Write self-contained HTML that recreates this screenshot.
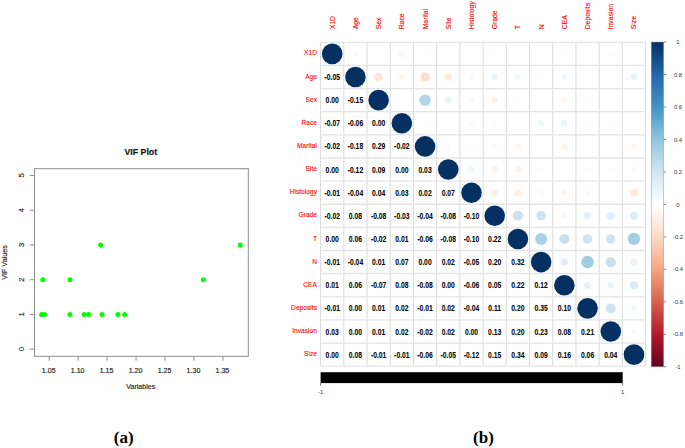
<!DOCTYPE html>
<html><head><meta charset="utf-8"><style>
html,body{margin:0;padding:0;background:#fff;}
body{width:685px;height:448px;overflow:hidden;}
svg{display:block;font-family:"Liberation Sans",sans-serif;}
</style></head><body>
<svg width="685" height="448" viewBox="0 0 685 448">
<rect width="685" height="448" fill="#fff"/>
<rect x="34.5" y="168.7" width="213.8" height="187.6" fill="none" stroke="#8c8c8c" stroke-width="1"/>
<text transform="translate(140.80 155.30) scale(1.0 1.05)" font-size="8.75" font-weight="bold" text-anchor="middle" fill="#111" stroke="#111" stroke-width="0.15">VIF Plot</text>
<line x1="29.8" y1="349.20" x2="34.5" y2="349.20" stroke="#8c8c8c" stroke-width="1"/>
<text transform="translate(24.40 349.20) rotate(-90) scale(1.0 1.0)" font-size="7.6" text-anchor="middle" fill="#222" stroke="#222" stroke-width="0.15">0</text>
<line x1="29.8" y1="314.46" x2="34.5" y2="314.46" stroke="#8c8c8c" stroke-width="1"/>
<text transform="translate(24.40 314.46) rotate(-90) scale(1.0 1.0)" font-size="7.6" text-anchor="middle" fill="#222" stroke="#222" stroke-width="0.15">1</text>
<line x1="29.8" y1="279.72" x2="34.5" y2="279.72" stroke="#8c8c8c" stroke-width="1"/>
<text transform="translate(24.40 279.72) rotate(-90) scale(1.0 1.0)" font-size="7.6" text-anchor="middle" fill="#222" stroke="#222" stroke-width="0.15">2</text>
<line x1="29.8" y1="244.98" x2="34.5" y2="244.98" stroke="#8c8c8c" stroke-width="1"/>
<text transform="translate(24.40 244.98) rotate(-90) scale(1.0 1.0)" font-size="7.6" text-anchor="middle" fill="#222" stroke="#222" stroke-width="0.15">3</text>
<line x1="29.8" y1="210.24" x2="34.5" y2="210.24" stroke="#8c8c8c" stroke-width="1"/>
<text transform="translate(24.40 210.24) rotate(-90) scale(1.0 1.0)" font-size="7.6" text-anchor="middle" fill="#222" stroke="#222" stroke-width="0.15">4</text>
<line x1="29.8" y1="175.50" x2="34.5" y2="175.50" stroke="#8c8c8c" stroke-width="1"/>
<text transform="translate(24.40 175.50) rotate(-90) scale(1.0 1.0)" font-size="7.6" text-anchor="middle" fill="#222" stroke="#222" stroke-width="0.15">5</text>
<line x1="49.20" y1="356.3" x2="49.20" y2="360.6" stroke="#8c8c8c" stroke-width="1"/>
<text transform="translate(48.70 372.50) scale(0.98 1.1)" font-size="7.2" text-anchor="middle" fill="#222" stroke="#222" stroke-width="0.15">1.05</text>
<line x1="78.15" y1="356.3" x2="78.15" y2="360.6" stroke="#8c8c8c" stroke-width="1"/>
<text transform="translate(77.65 372.50) scale(0.98 1.1)" font-size="7.2" text-anchor="middle" fill="#222" stroke="#222" stroke-width="0.15">1.10</text>
<line x1="107.10" y1="356.3" x2="107.10" y2="360.6" stroke="#8c8c8c" stroke-width="1"/>
<text transform="translate(106.60 372.50) scale(0.98 1.1)" font-size="7.2" text-anchor="middle" fill="#222" stroke="#222" stroke-width="0.15">1.15</text>
<line x1="136.05" y1="356.3" x2="136.05" y2="360.6" stroke="#8c8c8c" stroke-width="1"/>
<text transform="translate(135.55 372.50) scale(0.98 1.1)" font-size="7.2" text-anchor="middle" fill="#222" stroke="#222" stroke-width="0.15">1.20</text>
<line x1="165.00" y1="356.3" x2="165.00" y2="360.6" stroke="#8c8c8c" stroke-width="1"/>
<text transform="translate(164.50 372.50) scale(0.98 1.1)" font-size="7.2" text-anchor="middle" fill="#222" stroke="#222" stroke-width="0.15">1.25</text>
<line x1="193.95" y1="356.3" x2="193.95" y2="360.6" stroke="#8c8c8c" stroke-width="1"/>
<text transform="translate(193.45 372.50) scale(0.98 1.1)" font-size="7.2" text-anchor="middle" fill="#222" stroke="#222" stroke-width="0.15">1.30</text>
<line x1="222.90" y1="356.3" x2="222.90" y2="360.6" stroke="#8c8c8c" stroke-width="1"/>
<text transform="translate(222.40 372.50) scale(0.98 1.1)" font-size="7.2" text-anchor="middle" fill="#222" stroke="#222" stroke-width="0.15">1.35</text>
<text transform="translate(140.80 388.80) scale(0.98 1.1)" font-size="7.2" text-anchor="middle" fill="#222" stroke="#222" stroke-width="0.15">Variables</text>
<text transform="translate(7.20 262.50) rotate(-90) scale(1.0 1.0)" font-size="7.2" text-anchor="middle" fill="#222" stroke="#222" stroke-width="0.15">VIF Values</text>
<circle cx="41.6" cy="314.46" r="2.5" fill="#00ff00"/>
<circle cx="44.5" cy="314.46" r="2.5" fill="#00ff00"/>
<circle cx="69.9" cy="314.46" r="2.5" fill="#00ff00"/>
<circle cx="84.2" cy="314.46" r="2.5" fill="#00ff00"/>
<circle cx="88.6" cy="314.46" r="2.5" fill="#00ff00"/>
<circle cx="102.0" cy="314.46" r="2.5" fill="#00ff00"/>
<circle cx="117.9" cy="314.46" r="2.5" fill="#00ff00"/>
<circle cx="124.7" cy="314.46" r="2.5" fill="#00ff00"/>
<circle cx="42.8" cy="279.72" r="2.5" fill="#00ff00"/>
<circle cx="70.0" cy="279.72" r="2.5" fill="#00ff00"/>
<circle cx="203.3" cy="279.72" r="2.5" fill="#00ff00"/>
<circle cx="100.7" cy="244.98" r="2.5" fill="#00ff00"/>
<circle cx="240.2" cy="244.98" r="2.5" fill="#00ff00"/>
<line x1="320.60" y1="42.3" x2="320.60" y2="366.2" stroke="#dadada" stroke-width="1"/>
<line x1="343.81" y1="42.3" x2="343.81" y2="366.2" stroke="#dadada" stroke-width="1"/>
<line x1="367.03" y1="42.3" x2="367.03" y2="366.2" stroke="#dadada" stroke-width="1"/>
<line x1="390.24" y1="42.3" x2="390.24" y2="366.2" stroke="#dadada" stroke-width="1"/>
<line x1="413.46" y1="42.3" x2="413.46" y2="366.2" stroke="#dadada" stroke-width="1"/>
<line x1="436.67" y1="42.3" x2="436.67" y2="366.2" stroke="#dadada" stroke-width="1"/>
<line x1="459.89" y1="42.3" x2="459.89" y2="366.2" stroke="#dadada" stroke-width="1"/>
<line x1="483.10" y1="42.3" x2="483.10" y2="366.2" stroke="#dadada" stroke-width="1"/>
<line x1="506.31" y1="42.3" x2="506.31" y2="366.2" stroke="#dadada" stroke-width="1"/>
<line x1="529.53" y1="42.3" x2="529.53" y2="366.2" stroke="#dadada" stroke-width="1"/>
<line x1="552.74" y1="42.3" x2="552.74" y2="366.2" stroke="#dadada" stroke-width="1"/>
<line x1="575.96" y1="42.3" x2="575.96" y2="366.2" stroke="#dadada" stroke-width="1"/>
<line x1="599.17" y1="42.3" x2="599.17" y2="366.2" stroke="#dadada" stroke-width="1"/>
<line x1="622.39" y1="42.3" x2="622.39" y2="366.2" stroke="#dadada" stroke-width="1"/>
<line x1="645.60" y1="42.3" x2="645.60" y2="366.2" stroke="#dadada" stroke-width="1"/>
<line x1="320.6" y1="42.30" x2="645.6" y2="42.30" stroke="#e4e4e4" stroke-width="1.3"/>
<line x1="320.6" y1="65.44" x2="645.6" y2="65.44" stroke="#e4e4e4" stroke-width="1.3"/>
<line x1="320.6" y1="88.57" x2="645.6" y2="88.57" stroke="#e4e4e4" stroke-width="1.3"/>
<line x1="320.6" y1="111.71" x2="645.6" y2="111.71" stroke="#e4e4e4" stroke-width="1.3"/>
<line x1="320.6" y1="134.84" x2="645.6" y2="134.84" stroke="#e4e4e4" stroke-width="1.3"/>
<line x1="320.6" y1="157.98" x2="645.6" y2="157.98" stroke="#e4e4e4" stroke-width="1.3"/>
<line x1="320.6" y1="181.11" x2="645.6" y2="181.11" stroke="#e4e4e4" stroke-width="1.3"/>
<line x1="320.6" y1="204.25" x2="645.6" y2="204.25" stroke="#e4e4e4" stroke-width="1.3"/>
<line x1="320.6" y1="227.39" x2="645.6" y2="227.39" stroke="#e4e4e4" stroke-width="1.3"/>
<line x1="320.6" y1="250.52" x2="645.6" y2="250.52" stroke="#e4e4e4" stroke-width="1.3"/>
<line x1="320.6" y1="273.66" x2="645.6" y2="273.66" stroke="#e4e4e4" stroke-width="1.3"/>
<line x1="320.6" y1="296.79" x2="645.6" y2="296.79" stroke="#e4e4e4" stroke-width="1.3"/>
<line x1="320.6" y1="319.93" x2="645.6" y2="319.93" stroke="#e4e4e4" stroke-width="1.3"/>
<line x1="320.6" y1="343.06" x2="645.6" y2="343.06" stroke="#e4e4e4" stroke-width="1.3"/>
<line x1="320.6" y1="366.20" x2="645.6" y2="366.20" stroke="#e4e4e4" stroke-width="1.3"/>
<circle cx="332.21" cy="53.87" r="10.30" fill="#053061"/>
<circle cx="355.42" cy="53.87" r="2.57" fill="#fff7f2"/>
<circle cx="401.85" cy="53.87" r="2.98" fill="#fef3ed"/>
<circle cx="425.06" cy="53.87" r="1.76" fill="#fffcfb"/>
<circle cx="471.49" cy="53.87" r="1.34" fill="#fffefe"/>
<circle cx="494.71" cy="53.87" r="1.76" fill="#fffcfb"/>
<circle cx="541.14" cy="53.87" r="1.34" fill="#fffefe"/>
<circle cx="564.35" cy="53.87" r="1.34" fill="#fcfdfe"/>
<circle cx="587.56" cy="53.87" r="1.34" fill="#fffefe"/>
<circle cx="610.78" cy="53.87" r="2.07" fill="#f7fafc"/>
<text transform="translate(332.21 80.02) scale(0.97 1.17)" font-size="7.0" font-weight="bold" text-anchor="middle" fill="#000" stroke="#000" stroke-width="0.05">-0.05</text>
<circle cx="355.42" cy="77.00" r="10.30" fill="#053061"/>
<circle cx="378.64" cy="77.00" r="4.20" fill="#fee5d6"/>
<circle cx="401.85" cy="77.00" r="2.79" fill="#fef5f0"/>
<circle cx="425.06" cy="77.00" r="4.57" fill="#fddfce"/>
<circle cx="448.28" cy="77.00" r="3.80" fill="#feeadf"/>
<circle cx="471.49" cy="77.00" r="2.34" fill="#fff9f5"/>
<circle cx="494.71" cy="77.00" r="3.16" fill="#ebf4f9"/>
<circle cx="517.92" cy="77.00" r="2.79" fill="#f0f7fa"/>
<circle cx="541.14" cy="77.00" r="2.34" fill="#fff9f5"/>
<circle cx="564.35" cy="77.00" r="2.79" fill="#f0f7fa"/>
<circle cx="633.99" cy="77.00" r="3.16" fill="#ebf4f9"/>
<text transform="translate(332.21 103.16) scale(0.97 1.17)" font-size="7.0" font-weight="bold" text-anchor="middle" fill="#000" stroke="#000" stroke-width="0.05">0.00</text>
<text transform="translate(355.42 103.16) scale(0.97 1.17)" font-size="7.0" font-weight="bold" text-anchor="middle" fill="#000" stroke="#000" stroke-width="0.05">-0.15</text>
<circle cx="378.64" cy="100.14" r="10.30" fill="#053061"/>
<circle cx="425.06" cy="100.14" r="5.71" fill="#b3d6e7"/>
<circle cx="448.28" cy="100.14" r="3.33" fill="#e9f3f8"/>
<circle cx="471.49" cy="100.14" r="2.34" fill="#f5f9fc"/>
<circle cx="494.71" cy="100.14" r="3.16" fill="#fef1ea"/>
<circle cx="517.92" cy="100.14" r="1.76" fill="#fffcfb"/>
<circle cx="541.14" cy="100.14" r="1.34" fill="#fcfdfe"/>
<circle cx="564.35" cy="100.14" r="2.98" fill="#fef3ed"/>
<circle cx="587.56" cy="100.14" r="1.34" fill="#fcfdfe"/>
<circle cx="610.78" cy="100.14" r="1.34" fill="#fcfdfe"/>
<circle cx="633.99" cy="100.14" r="1.34" fill="#fffefe"/>
<text transform="translate(332.21 126.29) scale(0.97 1.17)" font-size="7.0" font-weight="bold" text-anchor="middle" fill="#000" stroke="#000" stroke-width="0.05">-0.07</text>
<text transform="translate(355.42 126.29) scale(0.97 1.17)" font-size="7.0" font-weight="bold" text-anchor="middle" fill="#000" stroke="#000" stroke-width="0.05">-0.06</text>
<text transform="translate(378.64 126.29) scale(0.97 1.17)" font-size="7.0" font-weight="bold" text-anchor="middle" fill="#000" stroke="#000" stroke-width="0.05">0.00</text>
<circle cx="401.85" cy="123.27" r="10.30" fill="#053061"/>
<circle cx="425.06" cy="123.27" r="1.76" fill="#fffcfb"/>
<circle cx="471.49" cy="123.27" r="2.07" fill="#f7fafc"/>
<circle cx="494.71" cy="123.27" r="2.07" fill="#fffaf8"/>
<circle cx="517.92" cy="123.27" r="1.34" fill="#fcfdfe"/>
<circle cx="541.14" cy="123.27" r="2.98" fill="#eef5f9"/>
<circle cx="564.35" cy="123.27" r="3.16" fill="#ebf4f9"/>
<circle cx="587.56" cy="123.27" r="1.76" fill="#f9fcfd"/>
<circle cx="610.78" cy="123.27" r="1.76" fill="#f9fcfd"/>
<circle cx="633.99" cy="123.27" r="1.34" fill="#fffefe"/>
<text transform="translate(332.21 149.43) scale(0.97 1.17)" font-size="7.0" font-weight="bold" text-anchor="middle" fill="#000" stroke="#000" stroke-width="0.05">-0.02</text>
<text transform="translate(355.42 149.43) scale(0.97 1.17)" font-size="7.0" font-weight="bold" text-anchor="middle" fill="#000" stroke="#000" stroke-width="0.05">-0.18</text>
<text transform="translate(378.64 149.43) scale(0.97 1.17)" font-size="7.0" font-weight="bold" text-anchor="middle" fill="#000" stroke="#000" stroke-width="0.05">0.29</text>
<text transform="translate(401.85 149.43) scale(0.97 1.17)" font-size="7.0" font-weight="bold" text-anchor="middle" fill="#000" stroke="#000" stroke-width="0.05">-0.02</text>
<circle cx="425.06" cy="146.41" r="10.30" fill="#053061"/>
<circle cx="448.28" cy="146.41" r="2.07" fill="#f7fafc"/>
<circle cx="471.49" cy="146.41" r="1.76" fill="#f9fcfd"/>
<circle cx="494.71" cy="146.41" r="2.34" fill="#fff9f5"/>
<circle cx="517.92" cy="146.41" r="2.79" fill="#fef5f0"/>
<circle cx="564.35" cy="146.41" r="3.16" fill="#fef1ea"/>
<circle cx="587.56" cy="146.41" r="1.34" fill="#fffefe"/>
<circle cx="610.78" cy="146.41" r="1.76" fill="#fffcfb"/>
<circle cx="633.99" cy="146.41" r="2.79" fill="#fef5f0"/>
<text transform="translate(332.21 172.57) scale(0.97 1.17)" font-size="7.0" font-weight="bold" text-anchor="middle" fill="#000" stroke="#000" stroke-width="0.05">0.00</text>
<text transform="translate(355.42 172.57) scale(0.97 1.17)" font-size="7.0" font-weight="bold" text-anchor="middle" fill="#000" stroke="#000" stroke-width="0.05">-0.12</text>
<text transform="translate(378.64 172.57) scale(0.97 1.17)" font-size="7.0" font-weight="bold" text-anchor="middle" fill="#000" stroke="#000" stroke-width="0.05">0.09</text>
<text transform="translate(401.85 172.57) scale(0.97 1.17)" font-size="7.0" font-weight="bold" text-anchor="middle" fill="#000" stroke="#000" stroke-width="0.05">0.00</text>
<text transform="translate(425.06 172.57) scale(0.97 1.17)" font-size="7.0" font-weight="bold" text-anchor="middle" fill="#000" stroke="#000" stroke-width="0.05">0.03</text>
<circle cx="448.28" cy="169.55" r="10.30" fill="#053061"/>
<circle cx="471.49" cy="169.55" r="2.98" fill="#eef5f9"/>
<circle cx="494.71" cy="169.55" r="3.16" fill="#fef1ea"/>
<circle cx="517.92" cy="169.55" r="3.16" fill="#fef1ea"/>
<circle cx="541.14" cy="169.55" r="1.76" fill="#f9fcfd"/>
<circle cx="587.56" cy="169.55" r="1.76" fill="#f9fcfd"/>
<circle cx="610.78" cy="169.55" r="1.76" fill="#f9fcfd"/>
<circle cx="633.99" cy="169.55" r="2.57" fill="#fff7f2"/>
<text transform="translate(332.21 195.70) scale(0.97 1.17)" font-size="7.0" font-weight="bold" text-anchor="middle" fill="#000" stroke="#000" stroke-width="0.05">-0.01</text>
<text transform="translate(355.42 195.70) scale(0.97 1.17)" font-size="7.0" font-weight="bold" text-anchor="middle" fill="#000" stroke="#000" stroke-width="0.05">-0.04</text>
<text transform="translate(378.64 195.70) scale(0.97 1.17)" font-size="7.0" font-weight="bold" text-anchor="middle" fill="#000" stroke="#000" stroke-width="0.05">0.04</text>
<text transform="translate(401.85 195.70) scale(0.97 1.17)" font-size="7.0" font-weight="bold" text-anchor="middle" fill="#000" stroke="#000" stroke-width="0.05">0.03</text>
<text transform="translate(425.06 195.70) scale(0.97 1.17)" font-size="7.0" font-weight="bold" text-anchor="middle" fill="#000" stroke="#000" stroke-width="0.05">0.02</text>
<text transform="translate(448.28 195.70) scale(0.97 1.17)" font-size="7.0" font-weight="bold" text-anchor="middle" fill="#000" stroke="#000" stroke-width="0.05">0.07</text>
<circle cx="471.49" cy="192.68" r="10.30" fill="#053061"/>
<circle cx="494.71" cy="192.68" r="3.50" fill="#feeee4"/>
<circle cx="517.92" cy="192.68" r="3.50" fill="#feeee4"/>
<circle cx="541.14" cy="192.68" r="2.57" fill="#fff7f2"/>
<circle cx="564.35" cy="192.68" r="2.79" fill="#fef5f0"/>
<circle cx="587.56" cy="192.68" r="2.34" fill="#fff9f5"/>
<circle cx="633.99" cy="192.68" r="3.80" fill="#feeadf"/>
<text transform="translate(332.21 218.84) scale(0.97 1.17)" font-size="7.0" font-weight="bold" text-anchor="middle" fill="#000" stroke="#000" stroke-width="0.05">-0.02</text>
<text transform="translate(355.42 218.84) scale(0.97 1.17)" font-size="7.0" font-weight="bold" text-anchor="middle" fill="#000" stroke="#000" stroke-width="0.05">0.08</text>
<text transform="translate(378.64 218.84) scale(0.97 1.17)" font-size="7.0" font-weight="bold" text-anchor="middle" fill="#000" stroke="#000" stroke-width="0.05">-0.08</text>
<text transform="translate(401.85 218.84) scale(0.97 1.17)" font-size="7.0" font-weight="bold" text-anchor="middle" fill="#000" stroke="#000" stroke-width="0.05">-0.03</text>
<text transform="translate(425.06 218.84) scale(0.97 1.17)" font-size="7.0" font-weight="bold" text-anchor="middle" fill="#000" stroke="#000" stroke-width="0.05">-0.04</text>
<text transform="translate(448.28 218.84) scale(0.97 1.17)" font-size="7.0" font-weight="bold" text-anchor="middle" fill="#000" stroke="#000" stroke-width="0.05">-0.08</text>
<text transform="translate(471.49 218.84) scale(0.97 1.17)" font-size="7.0" font-weight="bold" text-anchor="middle" fill="#000" stroke="#000" stroke-width="0.05">-0.10</text>
<circle cx="494.71" cy="215.82" r="10.30" fill="#053061"/>
<circle cx="517.92" cy="215.82" r="5.02" fill="#c9e1ee"/>
<circle cx="541.14" cy="215.82" r="4.80" fill="#cfe4ef"/>
<circle cx="564.35" cy="215.82" r="2.57" fill="#f2f8fb"/>
<circle cx="587.56" cy="215.82" r="3.65" fill="#e4f0f6"/>
<circle cx="610.78" cy="215.82" r="3.94" fill="#e2eff6"/>
<circle cx="633.99" cy="215.82" r="4.20" fill="#ddecf4"/>
<text transform="translate(332.21 241.97) scale(0.97 1.17)" font-size="7.0" font-weight="bold" text-anchor="middle" fill="#000" stroke="#000" stroke-width="0.05">0.00</text>
<text transform="translate(355.42 241.97) scale(0.97 1.17)" font-size="7.0" font-weight="bold" text-anchor="middle" fill="#000" stroke="#000" stroke-width="0.05">0.06</text>
<text transform="translate(378.64 241.97) scale(0.97 1.17)" font-size="7.0" font-weight="bold" text-anchor="middle" fill="#000" stroke="#000" stroke-width="0.05">-0.02</text>
<text transform="translate(401.85 241.97) scale(0.97 1.17)" font-size="7.0" font-weight="bold" text-anchor="middle" fill="#000" stroke="#000" stroke-width="0.05">0.01</text>
<text transform="translate(425.06 241.97) scale(0.97 1.17)" font-size="7.0" font-weight="bold" text-anchor="middle" fill="#000" stroke="#000" stroke-width="0.05">-0.06</text>
<text transform="translate(448.28 241.97) scale(0.97 1.17)" font-size="7.0" font-weight="bold" text-anchor="middle" fill="#000" stroke="#000" stroke-width="0.05">-0.08</text>
<text transform="translate(471.49 241.97) scale(0.97 1.17)" font-size="7.0" font-weight="bold" text-anchor="middle" fill="#000" stroke="#000" stroke-width="0.05">-0.10</text>
<text transform="translate(494.71 241.97) scale(0.97 1.17)" font-size="7.0" font-weight="bold" text-anchor="middle" fill="#000" stroke="#000" stroke-width="0.05">0.22</text>
<circle cx="517.92" cy="238.95" r="10.30" fill="#053061"/>
<circle cx="541.14" cy="238.95" r="5.98" fill="#a9d1e5"/>
<circle cx="564.35" cy="238.95" r="5.02" fill="#c9e1ee"/>
<circle cx="587.56" cy="238.95" r="4.80" fill="#cfe4ef"/>
<circle cx="610.78" cy="238.95" r="4.80" fill="#cfe4ef"/>
<circle cx="633.99" cy="238.95" r="6.15" fill="#a3cee3"/>
<text transform="translate(332.21 265.11) scale(0.97 1.17)" font-size="7.0" font-weight="bold" text-anchor="middle" fill="#000" stroke="#000" stroke-width="0.05">-0.01</text>
<text transform="translate(355.42 265.11) scale(0.97 1.17)" font-size="7.0" font-weight="bold" text-anchor="middle" fill="#000" stroke="#000" stroke-width="0.05">-0.04</text>
<text transform="translate(378.64 265.11) scale(0.97 1.17)" font-size="7.0" font-weight="bold" text-anchor="middle" fill="#000" stroke="#000" stroke-width="0.05">0.01</text>
<text transform="translate(401.85 265.11) scale(0.97 1.17)" font-size="7.0" font-weight="bold" text-anchor="middle" fill="#000" stroke="#000" stroke-width="0.05">0.07</text>
<text transform="translate(425.06 265.11) scale(0.97 1.17)" font-size="7.0" font-weight="bold" text-anchor="middle" fill="#000" stroke="#000" stroke-width="0.05">0.00</text>
<text transform="translate(448.28 265.11) scale(0.97 1.17)" font-size="7.0" font-weight="bold" text-anchor="middle" fill="#000" stroke="#000" stroke-width="0.05">0.02</text>
<text transform="translate(471.49 265.11) scale(0.97 1.17)" font-size="7.0" font-weight="bold" text-anchor="middle" fill="#000" stroke="#000" stroke-width="0.05">-0.05</text>
<text transform="translate(494.71 265.11) scale(0.97 1.17)" font-size="7.0" font-weight="bold" text-anchor="middle" fill="#000" stroke="#000" stroke-width="0.05">0.20</text>
<text transform="translate(517.92 265.11) scale(0.97 1.17)" font-size="7.0" font-weight="bold" text-anchor="middle" fill="#000" stroke="#000" stroke-width="0.05">0.32</text>
<circle cx="541.14" cy="262.09" r="10.30" fill="#053061"/>
<circle cx="564.35" cy="262.09" r="3.80" fill="#e2eff6"/>
<circle cx="587.56" cy="262.09" r="6.24" fill="#a0cce2"/>
<circle cx="610.78" cy="262.09" r="5.12" fill="#c6dfed"/>
<circle cx="633.99" cy="262.09" r="3.33" fill="#e9f3f8"/>
<text transform="translate(332.21 288.24) scale(0.97 1.17)" font-size="7.0" font-weight="bold" text-anchor="middle" fill="#000" stroke="#000" stroke-width="0.05">0.01</text>
<text transform="translate(355.42 288.24) scale(0.97 1.17)" font-size="7.0" font-weight="bold" text-anchor="middle" fill="#000" stroke="#000" stroke-width="0.05">0.06</text>
<text transform="translate(378.64 288.24) scale(0.97 1.17)" font-size="7.0" font-weight="bold" text-anchor="middle" fill="#000" stroke="#000" stroke-width="0.05">-0.07</text>
<text transform="translate(401.85 288.24) scale(0.97 1.17)" font-size="7.0" font-weight="bold" text-anchor="middle" fill="#000" stroke="#000" stroke-width="0.05">0.08</text>
<text transform="translate(425.06 288.24) scale(0.97 1.17)" font-size="7.0" font-weight="bold" text-anchor="middle" fill="#000" stroke="#000" stroke-width="0.05">-0.08</text>
<text transform="translate(448.28 288.24) scale(0.97 1.17)" font-size="7.0" font-weight="bold" text-anchor="middle" fill="#000" stroke="#000" stroke-width="0.05">0.00</text>
<text transform="translate(471.49 288.24) scale(0.97 1.17)" font-size="7.0" font-weight="bold" text-anchor="middle" fill="#000" stroke="#000" stroke-width="0.05">-0.06</text>
<text transform="translate(494.71 288.24) scale(0.97 1.17)" font-size="7.0" font-weight="bold" text-anchor="middle" fill="#000" stroke="#000" stroke-width="0.05">0.05</text>
<text transform="translate(517.92 288.24) scale(0.97 1.17)" font-size="7.0" font-weight="bold" text-anchor="middle" fill="#000" stroke="#000" stroke-width="0.05">0.22</text>
<text transform="translate(541.14 288.24) scale(0.97 1.17)" font-size="7.0" font-weight="bold" text-anchor="middle" fill="#000" stroke="#000" stroke-width="0.05">0.12</text>
<circle cx="564.35" cy="285.22" r="10.30" fill="#053061"/>
<circle cx="587.56" cy="285.22" r="3.50" fill="#e7f1f7"/>
<circle cx="610.78" cy="285.22" r="3.16" fill="#ebf4f9"/>
<circle cx="633.99" cy="285.22" r="4.33" fill="#dbebf3"/>
<text transform="translate(332.21 311.38) scale(0.97 1.17)" font-size="7.0" font-weight="bold" text-anchor="middle" fill="#000" stroke="#000" stroke-width="0.05">-0.01</text>
<text transform="translate(355.42 311.38) scale(0.97 1.17)" font-size="7.0" font-weight="bold" text-anchor="middle" fill="#000" stroke="#000" stroke-width="0.05">0.00</text>
<text transform="translate(378.64 311.38) scale(0.97 1.17)" font-size="7.0" font-weight="bold" text-anchor="middle" fill="#000" stroke="#000" stroke-width="0.05">0.01</text>
<text transform="translate(401.85 311.38) scale(0.97 1.17)" font-size="7.0" font-weight="bold" text-anchor="middle" fill="#000" stroke="#000" stroke-width="0.05">0.02</text>
<text transform="translate(425.06 311.38) scale(0.97 1.17)" font-size="7.0" font-weight="bold" text-anchor="middle" fill="#000" stroke="#000" stroke-width="0.05">-0.01</text>
<text transform="translate(448.28 311.38) scale(0.97 1.17)" font-size="7.0" font-weight="bold" text-anchor="middle" fill="#000" stroke="#000" stroke-width="0.05">0.02</text>
<text transform="translate(471.49 311.38) scale(0.97 1.17)" font-size="7.0" font-weight="bold" text-anchor="middle" fill="#000" stroke="#000" stroke-width="0.05">-0.04</text>
<text transform="translate(494.71 311.38) scale(0.97 1.17)" font-size="7.0" font-weight="bold" text-anchor="middle" fill="#000" stroke="#000" stroke-width="0.05">0.11</text>
<text transform="translate(517.92 311.38) scale(0.97 1.17)" font-size="7.0" font-weight="bold" text-anchor="middle" fill="#000" stroke="#000" stroke-width="0.05">0.20</text>
<text transform="translate(541.14 311.38) scale(0.97 1.17)" font-size="7.0" font-weight="bold" text-anchor="middle" fill="#000" stroke="#000" stroke-width="0.05">0.35</text>
<text transform="translate(564.35 311.38) scale(0.97 1.17)" font-size="7.0" font-weight="bold" text-anchor="middle" fill="#000" stroke="#000" stroke-width="0.05">0.10</text>
<circle cx="587.56" cy="308.36" r="10.30" fill="#053061"/>
<circle cx="610.78" cy="308.36" r="4.91" fill="#cce2ef"/>
<circle cx="633.99" cy="308.36" r="2.79" fill="#f0f7fa"/>
<text transform="translate(332.21 334.52) scale(0.97 1.17)" font-size="7.0" font-weight="bold" text-anchor="middle" fill="#000" stroke="#000" stroke-width="0.05">0.03</text>
<text transform="translate(355.42 334.52) scale(0.97 1.17)" font-size="7.0" font-weight="bold" text-anchor="middle" fill="#000" stroke="#000" stroke-width="0.05">0.00</text>
<text transform="translate(378.64 334.52) scale(0.97 1.17)" font-size="7.0" font-weight="bold" text-anchor="middle" fill="#000" stroke="#000" stroke-width="0.05">0.01</text>
<text transform="translate(401.85 334.52) scale(0.97 1.17)" font-size="7.0" font-weight="bold" text-anchor="middle" fill="#000" stroke="#000" stroke-width="0.05">0.02</text>
<text transform="translate(425.06 334.52) scale(0.97 1.17)" font-size="7.0" font-weight="bold" text-anchor="middle" fill="#000" stroke="#000" stroke-width="0.05">-0.02</text>
<text transform="translate(448.28 334.52) scale(0.97 1.17)" font-size="7.0" font-weight="bold" text-anchor="middle" fill="#000" stroke="#000" stroke-width="0.05">0.02</text>
<text transform="translate(471.49 334.52) scale(0.97 1.17)" font-size="7.0" font-weight="bold" text-anchor="middle" fill="#000" stroke="#000" stroke-width="0.05">0.00</text>
<text transform="translate(494.71 334.52) scale(0.97 1.17)" font-size="7.0" font-weight="bold" text-anchor="middle" fill="#000" stroke="#000" stroke-width="0.05">0.13</text>
<text transform="translate(517.92 334.52) scale(0.97 1.17)" font-size="7.0" font-weight="bold" text-anchor="middle" fill="#000" stroke="#000" stroke-width="0.05">0.20</text>
<text transform="translate(541.14 334.52) scale(0.97 1.17)" font-size="7.0" font-weight="bold" text-anchor="middle" fill="#000" stroke="#000" stroke-width="0.05">0.23</text>
<text transform="translate(564.35 334.52) scale(0.97 1.17)" font-size="7.0" font-weight="bold" text-anchor="middle" fill="#000" stroke="#000" stroke-width="0.05">0.08</text>
<text transform="translate(587.56 334.52) scale(0.97 1.17)" font-size="7.0" font-weight="bold" text-anchor="middle" fill="#000" stroke="#000" stroke-width="0.05">0.21</text>
<circle cx="610.78" cy="331.50" r="10.30" fill="#053061"/>
<circle cx="633.99" cy="331.50" r="2.34" fill="#f5f9fc"/>
<text transform="translate(332.21 357.65) scale(0.97 1.17)" font-size="7.0" font-weight="bold" text-anchor="middle" fill="#000" stroke="#000" stroke-width="0.05">0.00</text>
<text transform="translate(355.42 357.65) scale(0.97 1.17)" font-size="7.0" font-weight="bold" text-anchor="middle" fill="#000" stroke="#000" stroke-width="0.05">0.08</text>
<text transform="translate(378.64 357.65) scale(0.97 1.17)" font-size="7.0" font-weight="bold" text-anchor="middle" fill="#000" stroke="#000" stroke-width="0.05">-0.01</text>
<text transform="translate(401.85 357.65) scale(0.97 1.17)" font-size="7.0" font-weight="bold" text-anchor="middle" fill="#000" stroke="#000" stroke-width="0.05">-0.01</text>
<text transform="translate(425.06 357.65) scale(0.97 1.17)" font-size="7.0" font-weight="bold" text-anchor="middle" fill="#000" stroke="#000" stroke-width="0.05">-0.06</text>
<text transform="translate(448.28 357.65) scale(0.97 1.17)" font-size="7.0" font-weight="bold" text-anchor="middle" fill="#000" stroke="#000" stroke-width="0.05">-0.05</text>
<text transform="translate(471.49 357.65) scale(0.97 1.17)" font-size="7.0" font-weight="bold" text-anchor="middle" fill="#000" stroke="#000" stroke-width="0.05">-0.12</text>
<text transform="translate(494.71 357.65) scale(0.97 1.17)" font-size="7.0" font-weight="bold" text-anchor="middle" fill="#000" stroke="#000" stroke-width="0.05">0.15</text>
<text transform="translate(517.92 357.65) scale(0.97 1.17)" font-size="7.0" font-weight="bold" text-anchor="middle" fill="#000" stroke="#000" stroke-width="0.05">0.34</text>
<text transform="translate(541.14 357.65) scale(0.97 1.17)" font-size="7.0" font-weight="bold" text-anchor="middle" fill="#000" stroke="#000" stroke-width="0.05">0.09</text>
<text transform="translate(564.35 357.65) scale(0.97 1.17)" font-size="7.0" font-weight="bold" text-anchor="middle" fill="#000" stroke="#000" stroke-width="0.05">0.16</text>
<text transform="translate(587.56 357.65) scale(0.97 1.17)" font-size="7.0" font-weight="bold" text-anchor="middle" fill="#000" stroke="#000" stroke-width="0.05">0.06</text>
<text transform="translate(610.78 357.65) scale(0.97 1.17)" font-size="7.0" font-weight="bold" text-anchor="middle" fill="#000" stroke="#000" stroke-width="0.05">0.04</text>
<circle cx="633.99" cy="354.63" r="10.30" fill="#053061"/>
<text transform="translate(317.00 55.42) scale(0.98 1.15)" font-size="6.8" text-anchor="end" fill="#ff0000" stroke="#ff0000" stroke-width="0.1">X1D</text>
<text transform="translate(334.66 29.3) rotate(-90)" font-size="6.8" fill="#ff0000" stroke="#ff0000" stroke-width="0.12">X1D</text>
<text transform="translate(317.00 78.55) scale(0.98 1.15)" font-size="6.8" text-anchor="end" fill="#ff0000" stroke="#ff0000" stroke-width="0.1">Age</text>
<text transform="translate(357.87 29.3) rotate(-90)" font-size="6.8" fill="#ff0000" stroke="#ff0000" stroke-width="0.12">Age</text>
<text transform="translate(317.00 101.69) scale(0.98 1.15)" font-size="6.8" text-anchor="end" fill="#ff0000" stroke="#ff0000" stroke-width="0.1">Sex</text>
<text transform="translate(381.08 29.3) rotate(-90)" font-size="6.8" fill="#ff0000" stroke="#ff0000" stroke-width="0.12">Sex</text>
<text transform="translate(317.00 124.82) scale(0.98 1.15)" font-size="6.8" text-anchor="end" fill="#ff0000" stroke="#ff0000" stroke-width="0.1">Race</text>
<text transform="translate(404.30 29.3) rotate(-90)" font-size="6.8" fill="#ff0000" stroke="#ff0000" stroke-width="0.12">Race</text>
<text transform="translate(317.00 147.96) scale(0.98 1.15)" font-size="6.8" text-anchor="end" fill="#ff0000" stroke="#ff0000" stroke-width="0.1">Marital</text>
<text transform="translate(427.51 29.3) rotate(-90)" font-size="6.8" fill="#ff0000" stroke="#ff0000" stroke-width="0.12">Marital</text>
<text transform="translate(317.00 171.09) scale(0.98 1.15)" font-size="6.8" text-anchor="end" fill="#ff0000" stroke="#ff0000" stroke-width="0.1">Site</text>
<text transform="translate(450.73 29.3) rotate(-90)" font-size="6.8" fill="#ff0000" stroke="#ff0000" stroke-width="0.12">Site</text>
<text transform="translate(317.00 194.23) scale(0.98 1.15)" font-size="6.8" text-anchor="end" fill="#ff0000" stroke="#ff0000" stroke-width="0.1">Histology</text>
<text transform="translate(473.94 29.3) rotate(-90)" font-size="6.8" fill="#ff0000" stroke="#ff0000" stroke-width="0.12">Histology</text>
<text transform="translate(317.00 217.37) scale(0.98 1.15)" font-size="6.8" text-anchor="end" fill="#ff0000" stroke="#ff0000" stroke-width="0.1">Grade</text>
<text transform="translate(497.16 29.3) rotate(-90)" font-size="6.8" fill="#ff0000" stroke="#ff0000" stroke-width="0.12">Grade</text>
<text transform="translate(317.00 240.50) scale(0.98 1.15)" font-size="6.8" text-anchor="end" fill="#ff0000" stroke="#ff0000" stroke-width="0.1">T</text>
<text transform="translate(520.37 29.3) rotate(-90)" font-size="6.8" fill="#ff0000" stroke="#ff0000" stroke-width="0.12">T</text>
<text transform="translate(317.00 263.64) scale(0.98 1.15)" font-size="6.8" text-anchor="end" fill="#ff0000" stroke="#ff0000" stroke-width="0.1">N</text>
<text transform="translate(543.58 29.3) rotate(-90)" font-size="6.8" fill="#ff0000" stroke="#ff0000" stroke-width="0.12">N</text>
<text transform="translate(317.00 286.77) scale(0.98 1.15)" font-size="6.8" text-anchor="end" fill="#ff0000" stroke="#ff0000" stroke-width="0.1">CEA</text>
<text transform="translate(566.80 29.3) rotate(-90)" font-size="6.8" fill="#ff0000" stroke="#ff0000" stroke-width="0.12">CEA</text>
<text transform="translate(317.00 309.91) scale(0.98 1.15)" font-size="6.8" text-anchor="end" fill="#ff0000" stroke="#ff0000" stroke-width="0.1">Deposits</text>
<text transform="translate(590.01 29.3) rotate(-90)" font-size="6.8" fill="#ff0000" stroke="#ff0000" stroke-width="0.12">Deposits</text>
<text transform="translate(317.00 333.04) scale(0.98 1.15)" font-size="6.8" text-anchor="end" fill="#ff0000" stroke="#ff0000" stroke-width="0.1">Invasion</text>
<text transform="translate(613.23 29.3) rotate(-90)" font-size="6.8" fill="#ff0000" stroke="#ff0000" stroke-width="0.12">Invasion</text>
<text transform="translate(317.00 356.18) scale(0.98 1.15)" font-size="6.8" text-anchor="end" fill="#ff0000" stroke="#ff0000" stroke-width="0.1">Size</text>
<text transform="translate(636.44 29.3) rotate(-90)" font-size="6.8" fill="#ff0000" stroke="#ff0000" stroke-width="0.12">Size</text>
<defs><linearGradient id="cb" x1="0" y1="0" x2="0" y2="1"><stop offset="0.0" stop-color="#053061"/><stop offset="0.1" stop-color="#2166AC"/><stop offset="0.2" stop-color="#4393C3"/><stop offset="0.3" stop-color="#92C5DE"/><stop offset="0.4" stop-color="#D1E5F0"/><stop offset="0.5" stop-color="#FFFFFF"/><stop offset="0.6" stop-color="#FDDBC7"/><stop offset="0.7" stop-color="#F4A582"/><stop offset="0.8" stop-color="#D6604D"/><stop offset="0.9" stop-color="#B2182B"/><stop offset="1.0" stop-color="#67001F"/></linearGradient></defs>
<rect x="651.2" y="42.0" width="12.5" height="324.8" fill="url(#cb)"/>
<rect x="651.2" y="42.0" width="12.5" height="324.8" fill="none" stroke="#9a9a9a" stroke-width="0.5"/>
<line x1="663.7" y1="42.00" x2="666.2" y2="42.00" stroke="#666" stroke-width="0.8"/>
<text x="678.0" y="44.10" font-size="5.9" text-anchor="middle" fill="#333">1</text>
<line x1="663.7" y1="74.48" x2="666.2" y2="74.48" stroke="#666" stroke-width="0.8"/>
<text x="678.0" y="76.58" font-size="5.9" text-anchor="middle" fill="#333">0.8</text>
<line x1="663.7" y1="106.96" x2="666.2" y2="106.96" stroke="#666" stroke-width="0.8"/>
<text x="678.0" y="109.06" font-size="5.9" text-anchor="middle" fill="#333">0.6</text>
<line x1="663.7" y1="139.44" x2="666.2" y2="139.44" stroke="#666" stroke-width="0.8"/>
<text x="678.0" y="141.54" font-size="5.9" text-anchor="middle" fill="#333">0.4</text>
<line x1="663.7" y1="171.92" x2="666.2" y2="171.92" stroke="#666" stroke-width="0.8"/>
<text x="678.0" y="174.02" font-size="5.9" text-anchor="middle" fill="#333">0.2</text>
<line x1="663.7" y1="204.40" x2="666.2" y2="204.40" stroke="#666" stroke-width="0.8"/>
<text x="678.0" y="206.50" font-size="5.9" text-anchor="middle" fill="#333">0</text>
<line x1="663.7" y1="236.88" x2="666.2" y2="236.88" stroke="#666" stroke-width="0.8"/>
<text x="678.0" y="238.98" font-size="5.9" text-anchor="middle" fill="#333">-0.2</text>
<line x1="663.7" y1="269.36" x2="666.2" y2="269.36" stroke="#666" stroke-width="0.8"/>
<text x="678.0" y="271.46" font-size="5.9" text-anchor="middle" fill="#333">-0.4</text>
<line x1="663.7" y1="301.84" x2="666.2" y2="301.84" stroke="#666" stroke-width="0.8"/>
<text x="678.0" y="303.94" font-size="5.9" text-anchor="middle" fill="#333">-0.6</text>
<line x1="663.7" y1="334.32" x2="666.2" y2="334.32" stroke="#666" stroke-width="0.8"/>
<text x="678.0" y="336.42" font-size="5.9" text-anchor="middle" fill="#333">-0.8</text>
<line x1="663.7" y1="366.80" x2="666.2" y2="366.80" stroke="#666" stroke-width="0.8"/>
<text x="678.0" y="368.90" font-size="5.9" text-anchor="middle" fill="#333">-1</text>
<rect x="320.6" y="372.2" width="302.1" height="10.9" fill="#000"/>
<line x1="320.6" y1="383" x2="320.6" y2="385.6" stroke="#555" stroke-width="0.8"/>
<text x="320.6" y="394.0" font-size="5.9" text-anchor="middle" fill="#333">-1</text>
<line x1="622.7" y1="383" x2="622.7" y2="385.6" stroke="#555" stroke-width="0.8"/>
<text x="622.7" y="394.0" font-size="5.9" text-anchor="middle" fill="#333">1</text>
<text transform="translate(123.7 443.2) scale(1.05 1)" font-family="Liberation Serif" font-weight="bold" font-size="16.2" text-anchor="middle" fill="#000">(a)</text>
<text transform="translate(483.4 443.2) scale(1.05 1)" font-family="Liberation Serif" font-weight="bold" font-size="16.2" text-anchor="middle" fill="#000">(b)</text>
</svg>
</body></html>
